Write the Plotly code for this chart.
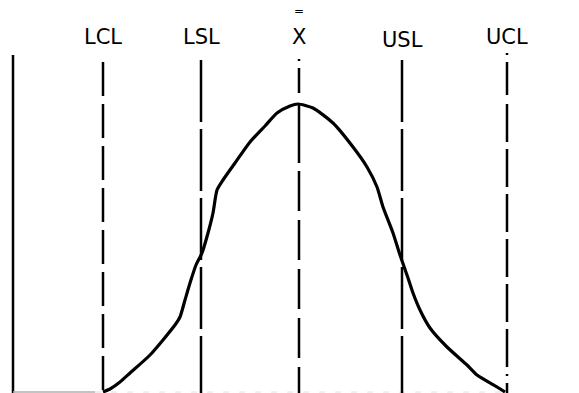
import plotly.graph_objects as go

# Limit positions (horizontal units) and labels
limit_labels = ["LCL", "LSL", "X̄", "USL", "UCL"]
limit_x = [103, 201, 299, 402, 507]
limit_top = [331, 333, 334, 333, 340]
limit_dash = [
    "34px,8px",
    "62px,7px",
    "2px,7px,25px,10px,60px,8px,40px,9px,40px,9px,40px,9px,40px,9px,40px,9px",
    "62px,7px",
    "2px,7px,33px,9px,38px,7px,38px,7px,38px,7px,38px,7px,38px,7px,38px,7px",
]

# Left boundary line
axis_x = 13
axis_top = 338

# Distribution curve (x, height)
curve_x = [103, 110, 120, 130, 150, 175, 180, 185, 190, 196, 202, 208, 213, 217, 223,
           235, 250, 265, 277, 290, 298, 313, 333, 353, 367, 377, 383, 393, 400, 407,
           413, 420, 430, 447, 467, 477, 497, 505]
curve_pix = [392, 389, 382, 373, 355, 325, 317, 300, 283, 265, 253, 233, 213, 190, 180,
             163, 142, 126, 113, 106, 104, 108, 123, 147, 167, 187, 207, 233, 255, 275,
             293, 310, 328, 347, 365, 375, 387, 392]
curve_y = [393 - p for p in curve_pix]

fig = go.Figure()

# left solid line
fig.add_trace(go.Scatter(x=[axis_x, axis_x], y=[axis_top, 0], mode="lines",
                         line=dict(color="black", width=2.5), hoverinfo="skip"))
# faint baseline
fig.add_trace(go.Scatter(x=[axis_x, 95], y=[1, 1], mode="lines",
                         line=dict(color="#b0b0b0", width=1.5), hoverinfo="skip"))
fig.add_trace(go.Scatter(x=[95, 505], y=[1, 1], mode="lines",
                         line=dict(color="#e0e0e0", width=1, dash="6px,10px"), hoverinfo="skip"))

for lx, top, dash in zip(limit_x, limit_top, limit_dash):
    fig.add_trace(go.Scatter(x=[lx, lx], y=[top, 0], mode="lines",
                             line=dict(color="black", width=2.5, dash=dash), hoverinfo="skip"))

fig.add_trace(go.Scatter(x=curve_x, y=curve_y, mode="lines",
                         line=dict(color="black", width=3.2, shape="spline", smoothing=0.6),
                         hoverinfo="skip"))

label_y = [356, 356, 356, 353, 356]
lab_font = dict(family="DejaVu Sans", size=21, color="black")
for lab, lx, ly in zip(limit_labels, limit_x, label_y):
    if lab == "X̄":
        fig.add_annotation(x=lx, y=ly, text="X", showarrow=False, font=lab_font)
        fig.add_annotation(x=lx, y=ly + 26, text="=", showarrow=False,
                           font=dict(family="DejaVu Sans", size=12, color="black"))
    else:
        fig.add_annotation(x=lx, y=ly, text=lab, showarrow=False, font=lab_font)

fig.update_layout(
    width=579, height=393,
    margin=dict(l=0, r=0, t=0, b=0),
    paper_bgcolor="white", plot_bgcolor="white",
    showlegend=False,
    xaxis=dict(range=[0, 579], visible=False, fixedrange=True),
    yaxis=dict(range=[0, 393], visible=False, fixedrange=True),
)

fig.write_html("out.html", config={"displayModeBar": False},
               post_script="document.body.style.margin='0';document.body.style.overflow='hidden';")
